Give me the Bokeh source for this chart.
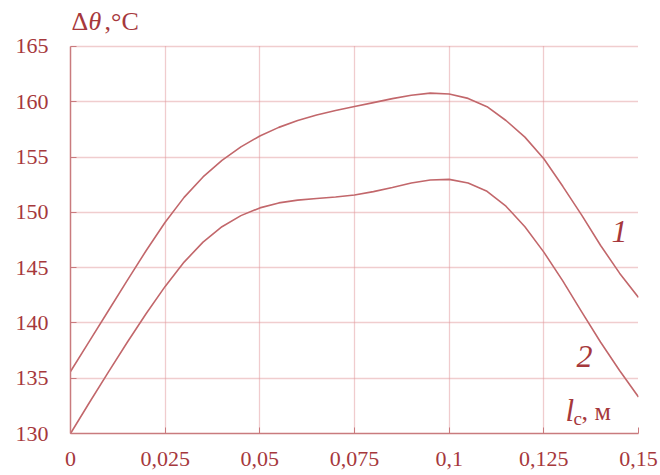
from bokeh.plotting import figure
from bokeh.models import FixedTicker, Label, Range1d
from bokeh.embed import file_html
from bokeh.resources import INLINE

# Overheat Δθ (°C) against length l_c (m) for two variants
lc = [0.000, 0.005, 0.010, 0.015, 0.020, 0.025, 0.030, 0.035, 0.040, 0.045,
      0.050, 0.055, 0.060, 0.065, 0.070, 0.075, 0.080, 0.085, 0.090, 0.095,
      0.100, 0.105, 0.110, 0.115, 0.120, 0.125, 0.130, 0.135, 0.140, 0.145,
      0.150]
dtheta_1 = [135.6, 138.35, 141.1, 143.85, 146.55, 149.1, 151.35, 153.2, 154.7, 155.92,
            156.9, 157.68, 158.3, 158.8, 159.2, 159.56, 159.92, 160.28, 160.58, 160.78,
            160.7, 160.3, 159.55, 158.3, 156.8, 154.85, 152.35, 149.75, 147.0, 144.5,
            142.3]
dtheta_2 = [130.0, 132.8, 135.55, 138.25, 140.85, 143.3, 145.5, 147.3, 148.7, 149.7,
            150.4, 150.85, 151.1, 151.25, 151.38, 151.56, 151.87, 152.25, 152.65, 152.92,
            152.98, 152.65, 151.9, 150.55, 148.7, 146.4, 143.8, 141.0, 138.25, 135.7,
            133.3]

x_ticks = [0, 0.025, 0.05, 0.075, 0.1, 0.125, 0.15]
x_tick_labels = ["0", "0,025", "0,05", "0,075", "0,1", "0,125", "0,15"]
y_ticks = [130, 135, 140, 145, 150, 155, 160, 165]

curve_names = ["1", "2"]
curve_name_pos = [(0.1429, 147.3), (0.1336, 136.0)]

TEXT = "#a6383c"
LINE = "#c2676b"
AXIS = "#c97b7e"
GRID = "#e19a9d"
SERIF = "Liberation Serif"

# the frame reaches up to the canvas top so the Δθ heading can sit inside it;
# axis line and vertical grid lines stop at the last tick (165)
p = figure(width=660, height=475, output_backend="svg", toolbar_location=None,
           x_range=Range1d(0, 0.15), y_range=Range1d(130, 168.7),
           min_border_left=70, min_border_right=22, min_border_top=5,
           min_border_bottom=42)
p.outline_line_color = None
p.background_fill_color = "white"
p.border_fill_color = "white"

for ax in (p.xaxis[0], p.yaxis[0]):
    ax.axis_line_color = AXIS
    ax.axis_line_width = 1.5
    ax.major_tick_line_color = AXIS
    ax.major_tick_in = 6
    ax.major_tick_out = 0
    ax.minor_tick_line_color = None
    ax.major_label_text_color = TEXT
    ax.major_label_text_font = SERIF
    ax.major_label_text_font_size = "22px"

p.xaxis.ticker = FixedTicker(ticks=x_ticks)
p.xaxis.major_label_overrides = {t: s for t, s in zip(x_ticks, x_tick_labels)}
p.xaxis.major_label_standoff = 18
p.yaxis.ticker = FixedTicker(ticks=y_ticks)
p.yaxis.major_label_standoff = 22
p.yaxis.bounds = (y_ticks[0], y_ticks[-1])

for g in (p.xgrid[0], p.ygrid[0]):
    g.grid_line_color = GRID
    g.grid_line_dash = "1 1"
    g.grid_line_width = 1.3
p.xgrid.ticker = FixedTicker(ticks=x_ticks)
p.ygrid.ticker = FixedTicker(ticks=y_ticks)
p.xgrid.cross_bounds = (y_ticks[0], y_ticks[-1])

p.line(lc, dtheta_1, line_color=LINE, line_width=1.6)
p.line(lc, dtheta_2, line_color=LINE, line_width=1.6)


def add_text(txt, x, y, dx, dy, size, style="normal"):
    # dy is the baseline height above (x, y); the glyph is anchored at its middle
    p.add_layout(Label(x=x, y=y, x_offset=dx, y_offset=dy + 0.3375 * size,
                       text=txt, text_font=SERIF, text_font_style=style,
                       text_font_size=f"{size}px", text_color=TEXT,
                       text_baseline="alphabetic"))


for name, (nx, ny) in zip(curve_names, curve_name_pos):
    add_text(name, nx, ny, 0, 0, 32, "italic")

# y-axis heading  Δθ,°C  above the top-left corner
add_text("Δ", 0, 165, 1, 16, 26)
add_text("θ", 0, 165, 18, 16, 26, "italic")
add_text(",°C", 0, 165, 34, 16, 26)

# x-axis heading  l_c, м  inside the lower right corner
add_text("l", 0.15, 130, -73, 13, 31, "italic")
add_text("c", 0.15, 130, -65, 9, 19)
add_text(", м", 0.15, 130, -57, 13, 26)

open("out.html", "w").write(file_html(p, INLINE))
